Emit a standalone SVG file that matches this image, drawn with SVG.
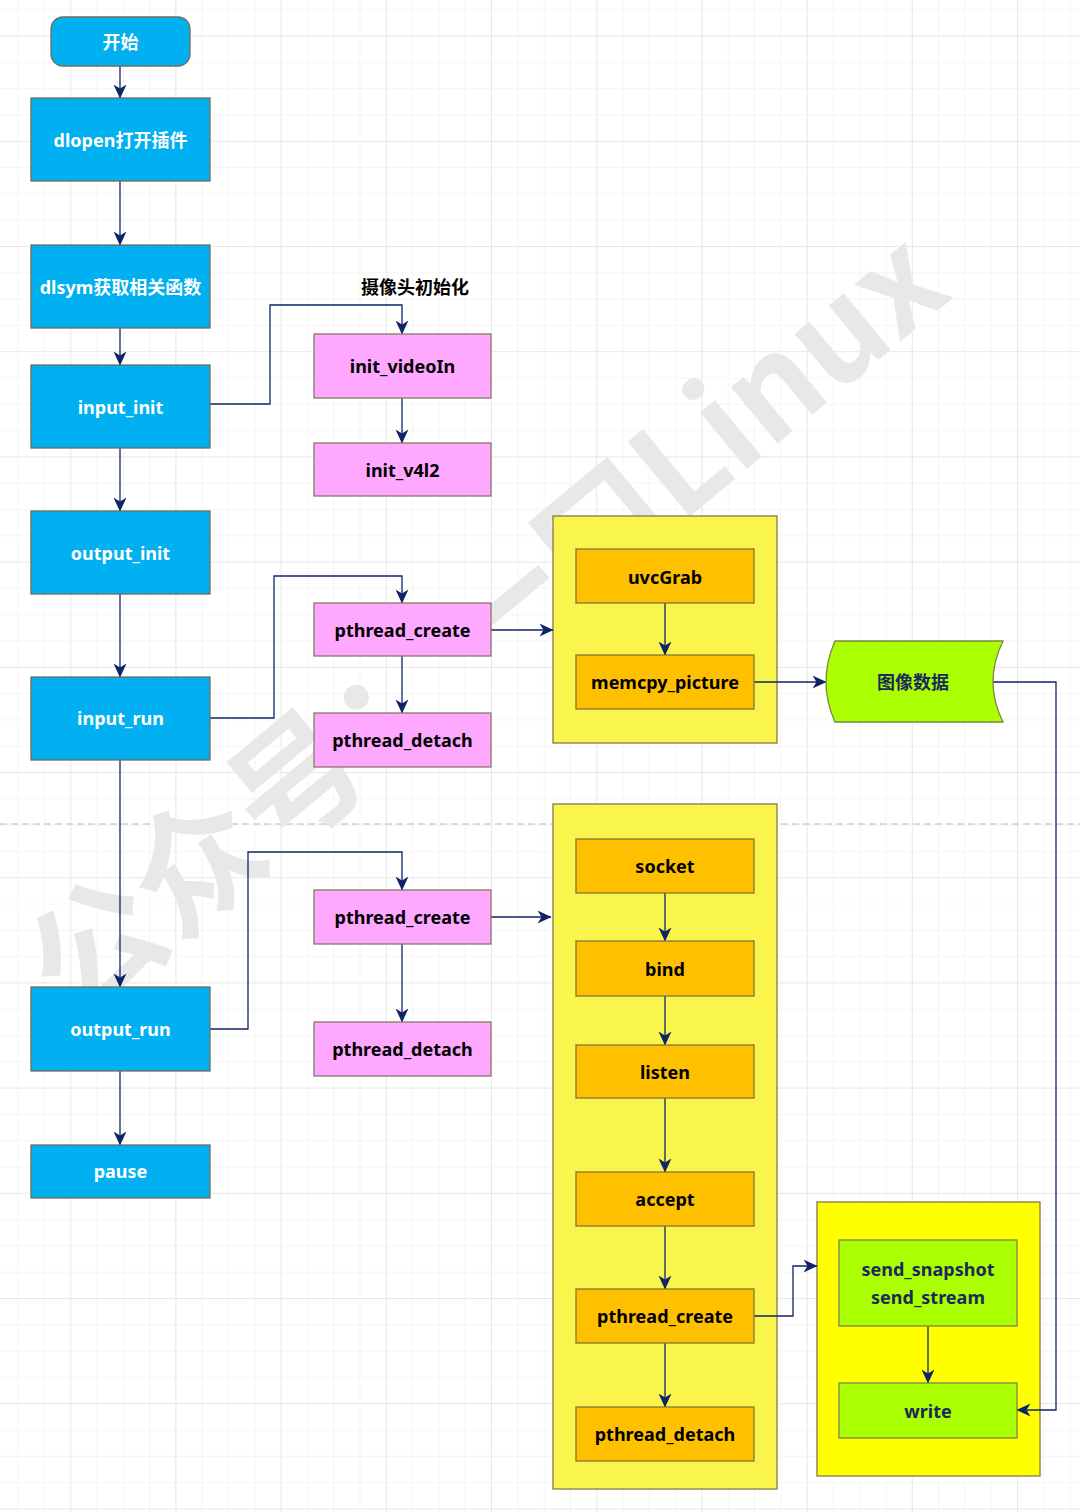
<svg xmlns="http://www.w3.org/2000/svg" width="1080" height="1512" viewBox="0 0 1080 1512">
<defs>
<pattern id="minor" patternUnits="userSpaceOnUse" x="17.6" y="9.3" width="26.3" height="26.3">
<path d="M0,0 H26.3 M0,0 V26.3" fill="none" stroke="#ececec" stroke-width="1"/>
</pattern>
<pattern id="major" patternUnits="userSpaceOnUse" x="70.2" y="35.6" width="105.2" height="105.2">
<path d="M0,0 H105.2 M0,0 V105.2" fill="none" stroke="#dcdcdc" stroke-width="1"/>
</pattern>
<marker id="arr" markerUnits="userSpaceOnUse" markerWidth="14" markerHeight="14" viewBox="0 0 14 14" refX="13.5" refY="7" orient="auto">
<path d="M0,0.5 L14,7 L0,13.5 L4,7 Z" fill="#0f2467"/>
</marker>
</defs>
<style>
.lbl{font-family:"Noto Sans","Noto Sans CJK SC",sans-serif;font-size:18px;font-weight:bold;text-anchor:middle;dominant-baseline:central}
.w{fill:#ffffff}
.k{fill:#000000}
.n{fill:#1b2a5c}
.blue{fill:#00b0f0;stroke:#6f6d5c;stroke-width:1.3}
.pink{fill:#ffa8ff;stroke:#8a7765;stroke-width:1.3}
.org{fill:#ffc000;stroke:#85743a;stroke-width:1.3}
.grn{fill:#aaff00;stroke:#7b8640;stroke-width:1.3}
.cont{stroke:#857847;stroke-width:1.3}
.c{fill:none;stroke:#0f2467;stroke-width:1.3;marker-end:url(#arr)}
</style>
<rect x="0" y="0" width="1080" height="1512" fill="#ffffff"/>
<rect x="0" y="0" width="1080" height="1512" fill="url(#minor)"/>
<rect x="0" y="0" width="1080" height="1512" fill="url(#major)"/>
<line x1="0" y1="824" x2="1080" y2="824" stroke="#b8b8b8" stroke-width="1" stroke-dasharray="7,4"/>
<text transform="translate(76,1026) rotate(-39.7)" font-family="Noto Sans CJK SC,sans-serif" font-size="131" font-weight="bold" fill="#e8e8e8">公众号：一口Linux</text>

<g id="containers">
<rect id="grp-capture" class="cont" x="553" y="516" width="224" height="227" fill="#f9f54c"/>
<rect id="grp-server" class="cont" x="553" y="804" width="224" height="685" fill="#f9f54c"/>
<rect id="grp-send" class="cont" x="817" y="1202" width="223" height="274" fill="#ffff00"/>
</g>

<g id="connectors">
<path class="c" d="M120,66 V98"/>
<path class="c" d="M120,181 V245"/>
<path class="c" d="M120,328 V365"/>
<path class="c" d="M120,448 V511"/>
<path class="c" d="M120,594 V677"/>
<path class="c" d="M120,760 V987"/>
<path class="c" d="M120,1071 V1145"/>
<path class="c" d="M210,404 H270 V305 H402 V334"/>
<path class="c" d="M402,398 V443"/>
<path class="c" d="M210,718 H274 V576 H402 V603"/>
<path class="c" d="M402,656 V713"/>
<path class="c" d="M491,630 H553"/>
<path class="c" d="M210,1029 H248 V852 H402 V890"/>
<path class="c" d="M402,944 V1022"/>
<path class="c" d="M491,917 H551"/>
<path class="c" d="M665,603 V655"/>
<path class="c" d="M754,682 H826"/>
<path class="c" d="M993,682 H1056 V1410 H1017"/>
<path class="c" d="M665,893 V941"/>
<path class="c" d="M665,996 V1045"/>
<path class="c" d="M665,1098 V1172"/>
<path class="c" d="M665,1226 V1289"/>
<path class="c" d="M665,1343 V1407"/>
<path class="c" d="M754,1316 H793 V1266 H817"/>
<path class="c" d="M928,1326 V1383"/>
</g>

<g id="start"><rect class="blue" x="51" y="17" width="139" height="49" rx="12"/><text class="lbl w" x="120.5" y="42">开始</text></g>
<g id="dlopen"><rect class="blue" x="31" y="98" width="179" height="83"/><text class="lbl w" x="120.5" y="140">dlopen打开插件</text></g>
<g id="dlsym"><rect class="blue" x="31" y="245" width="179" height="83"/><text class="lbl w" x="120.5" y="287">dlsym获取相关函数</text></g>
<g id="input_init"><rect class="blue" x="31" y="365" width="179" height="83"/><text class="lbl w" x="120.5" y="407">input_init</text></g>
<g id="output_init"><rect class="blue" x="31" y="511" width="179" height="83"/><text class="lbl w" x="120.5" y="553">output_init</text></g>
<g id="input_run"><rect class="blue" x="31" y="677" width="179" height="83"/><text class="lbl w" x="120.5" y="718">input_run</text></g>
<g id="output_run"><rect class="blue" x="31" y="987" width="179" height="84"/><text class="lbl w" x="120.5" y="1029">output_run</text></g>
<g id="pause"><rect class="blue" x="31" y="1145" width="179" height="53"/><text class="lbl w" x="120.5" y="1171">pause</text></g>

<g id="cam-label"><text class="lbl k" x="415" y="287">摄像头初始化</text></g>
<g id="init_videoIn"><rect class="pink" x="314" y="334" width="177" height="64"/><text class="lbl k" x="402.5" y="366">init_videoIn</text></g>
<g id="init_v4l2"><rect class="pink" x="314" y="443" width="177" height="53"/><text class="lbl k" x="402.5" y="470">init_v4l2</text></g>
<g id="pthread_create_in"><rect class="pink" x="314" y="603" width="177" height="53"/><text class="lbl k" x="402.5" y="630">pthread_create</text></g>
<g id="pthread_detach_in"><rect class="pink" x="314" y="713" width="177" height="54"/><text class="lbl k" x="402.5" y="740">pthread_detach</text></g>
<g id="pthread_create_out"><rect class="pink" x="314" y="890" width="177" height="54"/><text class="lbl k" x="402.5" y="917">pthread_create</text></g>
<g id="pthread_detach_out"><rect class="pink" x="314" y="1022" width="177" height="54"/><text class="lbl k" x="402.5" y="1049">pthread_detach</text></g>

<g id="uvcGrab"><rect class="org" x="576" y="549" width="178" height="54"/><text class="lbl k" x="665" y="577">uvcGrab</text></g>
<g id="memcpy_picture"><rect class="org" x="576" y="655" width="178" height="54"/><text class="lbl k" x="665" y="682">memcpy_picture</text></g>
<g id="image-data"><path class="grn" d="M835,641 L1003,641 Q983,682 1003,722 L835,722 Q817,682 835,641 Z"/><text class="lbl n" x="913" y="682">图像数据</text></g>

<g id="socket"><rect class="org" x="576" y="839" width="178" height="54"/><text class="lbl k" x="665" y="866">socket</text></g>
<g id="bind"><rect class="org" x="576" y="941" width="178" height="55"/><text class="lbl k" x="665" y="969">bind</text></g>
<g id="listen"><rect class="org" x="576" y="1045" width="178" height="53"/><text class="lbl k" x="665" y="1072">listen</text></g>
<g id="accept"><rect class="org" x="576" y="1172" width="178" height="54"/><text class="lbl k" x="665" y="1199">accept</text></g>
<g id="pthread_create_srv"><rect class="org" x="576" y="1289" width="178" height="54"/><text class="lbl k" x="665" y="1316">pthread_create</text></g>
<g id="pthread_detach_srv"><rect class="org" x="576" y="1407" width="178" height="54"/><text class="lbl k" x="665" y="1434">pthread_detach</text></g>

<g id="send"><rect class="grn" x="839" y="1240" width="178" height="86"/><text class="lbl n" x="928" y="1269">send_snapshot</text><text class="lbl n" x="928" y="1297">send_stream</text></g>
<g id="write"><rect class="grn" x="839" y="1383" width="178" height="55"/><text class="lbl n" x="928" y="1411">write</text></g>
</svg>
